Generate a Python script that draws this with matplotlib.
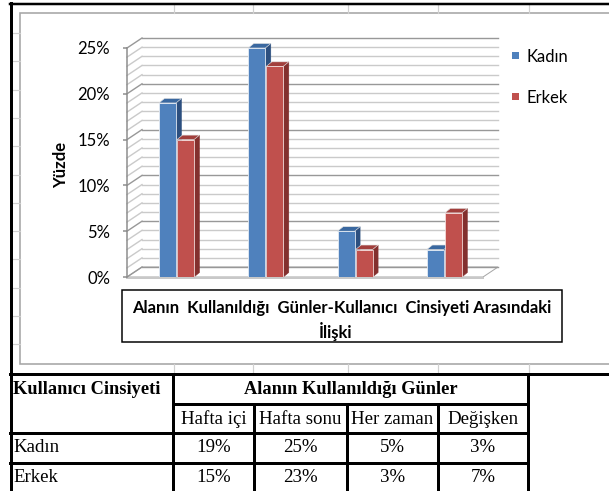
import matplotlib
matplotlib.use("Agg")
import matplotlib.pyplot as plt
from matplotlib.patches import Rectangle, Polygon

plt.rcParams['font.family'] = ['Lato', 'DejaVu Sans']

# -----------------------------
# DATA
# -----------------------------
gunler = ["Hafta içi", "Hafta sonu", "Her zaman", "Değişken"]
cinsiyet = ["Kadın", "Erkek"]
kadin = [19, 25, 5, 3]
erkek = [15, 23, 3, 7]
y_ticks = [0, 5, 10, 15, 20, 25]
y_title = "Yüzde"
chart_title = ["Alanın  Kullanıldığı  Günler-Kullanıcı  Cinsiyeti Arasındaki", "İlişki"]
table_head = ["Kullanıcı Cinsiyeti", "Alanın Kullanıldığı Günler"]

blue = ['#4F81BD', '#3A68A0', '#2C4F7F']   # front, top, side
red = ['#C0504D', '#A23F3C', '#83302E']

W, H = 609, 491
PX = 72 / 100   # one pixel in points

fig = plt.figure(figsize=(W / 100, H / 100), dpi=100)

# background axes in pixel coordinates (spreadsheet, frames, table)
bg = fig.add_axes([0, 0, 1, 1])
bg.set_xlim(0, W)
bg.set_ylim(H, 0)
bg.axis('off')

grid_c = '#D0D0D0'
# spreadsheet cell lines around the chart object
for gx in [174, 253, 348, 438, 529]:
    bg.plot([gx, gx], [4, 13], color=grid_c, lw=1.2 * PX)
    bg.plot([gx, gx], [364, 374], color=grid_c, lw=1.2 * PX)
for k in range(12):
    gy = 33 + 28.3 * k
    bg.plot([11, 20], [gy, gy], color=grid_c, lw=1.2 * PX)

# chart area frame
bg.add_patch(Rectangle((20, 13), 620, 351, facecolor='white',
                       edgecolor='#A6A6A6', lw=1.6 * PX))

# outer black lines
bg.plot([10, W], [3.5, 3.5], color='black', lw=2.5 * PX)
bg.plot([10.8, 10.8], [3, H], color='black', lw=3 * PX)

# -----------------------------
# 3D-LOOKING COLUMN CHART
# -----------------------------
x_left, x_right, y_zero, y_top = 127, 483, 277, 48
step = 89.3                       # pixels between category centres
ax = fig.add_axes([x_left / W, 1 - y_zero / H,
                   (x_right - x_left) / W, (y_zero - y_top) / H])
ax.patch.set_visible(False)
xl = -(176.5 - x_left) / step
xr = (x_right - 176.5) / step
ax.set_xlim(xl, xr)
ax.set_ylim(0, max(y_ticks))
ppy = (y_zero - y_top) / max(y_ticks)
Dx, Dy = 15 / step, 10 / ppy      # wall depth
dx, dy = 5.5 / step, 4.5 / ppy    # bar depth

# floor
ax.add_patch(Polygon([(xl, 0), (xr, 0), (xr + Dx, Dy), (xl + Dx, Dy)],
                     closed=True, facecolor='white', edgecolor='#A6A6A6',
                     lw=1 * PX, clip_on=False, zorder=1))
ax.plot([xl, xr], [-0.12, -0.12], color='#C8C8C8', lw=2 * PX,
        clip_on=False, zorder=1)

# gridlines on back wall and side wall
for v in range(0, max(y_ticks) + 1):
    major = v % 5 == 0
    c = '#989898' if major else '#CACACA'
    lw = 1.4 * PX
    ax.plot([xl + Dx, xr + Dx], [v + Dy, v + Dy], color=c, lw=lw,
            clip_on=False, zorder=1.2 if major else 1.1)
    ax.plot([xl, xl + Dx], [v, v + Dy], color=c, lw=lw,
            clip_on=False, zorder=1.2 if major else 1.1)

x = list(range(len(gunler)))
off = 9 / step
bw = 17 / step
for vals, cols, sgn, lab in [(kadin, blue, -1, cinsiyet[0]),
                             (erkek, red, 1, cinsiyet[1])]:
    pos = [p + sgn * off for p in x]
    bars = ax.bar(pos, vals, width=bw, color=cols[0], label=lab,
                  edgecolor='#E8EEF6' if cols is blue else '#F4DEDD',
                  lw=0.8 * PX, zorder=3)
    for b in bars:
        x0 = b.get_x()
        x1 = x0 + b.get_width()
        h = b.get_height()
        ax.add_patch(Polygon([(x1, 0), (x1 + dx, dy), (x1 + dx, h + dy), (x1, h)],
                             closed=True, facecolor=cols[2], edgecolor=cols[2],
                             lw=0.5 * PX, clip_on=False, zorder=2.9))
        ax.add_patch(Polygon([(x0, h), (x1, h), (x1 + dx, h + dy), (x0 + dx, h + dy)],
                             closed=True, facecolor=cols[1], edgecolor='#E0E0E0',
                             lw=0.6 * PX, clip_on=False, zorder=2.9))

for s in ['top', 'right', 'bottom']:
    ax.spines[s].set_visible(False)
ax.spines['left'].set_color('#8C8C8C')
ax.spines['left'].set_linewidth(1.5 * PX)
ax.spines['left'].set_zorder(5)
ax.set_xticks([])
ax.set_yticks(y_ticks)
ax.set_yticklabels([f"{v}%" for v in y_ticks])
ax.tick_params(axis='y', length=4 * PX, width=1.5 * PX, color='#8C8C8C',
               pad=13 * PX, labelsize=12, labelcolor='black')

bg.text(61, 165, y_title, rotation=90, fontsize=12, fontweight='bold',
        ha='center', va='center')

# legend
for i, (lab, cols) in enumerate(zip(cinsiyet, [blue, red])):
    ly = 55.5 + 41 * i
    bg.add_patch(Rectangle((512, ly - 3.5), 7, 7, facecolor=cols[0], edgecolor='none'))
    bg.text(527, ly, lab, fontsize=12, ha='left', va='center_baseline')

# title box
bg.add_patch(Rectangle((122, 290), 440, 52, facecolor='white',
                       edgecolor='black', lw=1.5 * PX))
bg.text(341.5, 307, chart_title[0], fontsize=12.0, fontweight='bold',
        ha='center', va='center_baseline')
bg.text(336, 330, chart_title[1], fontsize=12.0, fontweight='bold',
        ha='center', va='center_baseline')

# -----------------------------
# TABLE
# -----------------------------
tf = ['Liberation Serif', 'DejaVu Serif']
tk = 3 * PX
col_x = [11, 173, 254, 347, 438, 528]
row_y = [374, 404, 433, 463, 491]

bg.plot([10, W], [row_y[0], row_y[0]], color='black', lw=tk)
bg.plot([col_x[1], col_x[-1]], [row_y[1], row_y[1]], color='black', lw=tk)
for ry in row_y[2:4]:
    bg.plot([10, col_x[-1]], [ry, ry], color='black', lw=tk)
for cx in [col_x[1], col_x[-1]]:
    bg.plot([cx, cx], [row_y[0], H], color='black', lw=tk)
for cx in col_x[2:5]:
    bg.plot([cx, cx], [row_y[1], H], color='black', lw=tk)

bg.text(13, 389, table_head[0], family=tf, fontsize=13.2, fontweight='bold',
        ha='left', va='center')
bg.text((col_x[1] + col_x[-1]) / 2, 389, table_head[1], family=tf, fontsize=13.2,
        fontweight='bold', ha='center', va='center')
for j, g in enumerate(gunler):
    cx = (col_x[j + 1] + col_x[j + 2]) / 2
    bg.text(cx, 419, g, family=tf, fontsize=13.6, ha='center', va='center')
for i, (lab, vals) in enumerate(zip(cinsiyet, [kadin, erkek])):
    ry = 448 + 29.5 * i
    bg.text(13, ry, lab, family=tf, fontsize=13.6, ha='left', va='center')
    for j, v in enumerate(vals):
        cx = (col_x[j + 1] + col_x[j + 2]) / 2
        bg.text(cx, ry, f"{v}%", family=tf, fontsize=13.6, ha='center', va='center')

fig.savefig("out.png", dpi=100)
